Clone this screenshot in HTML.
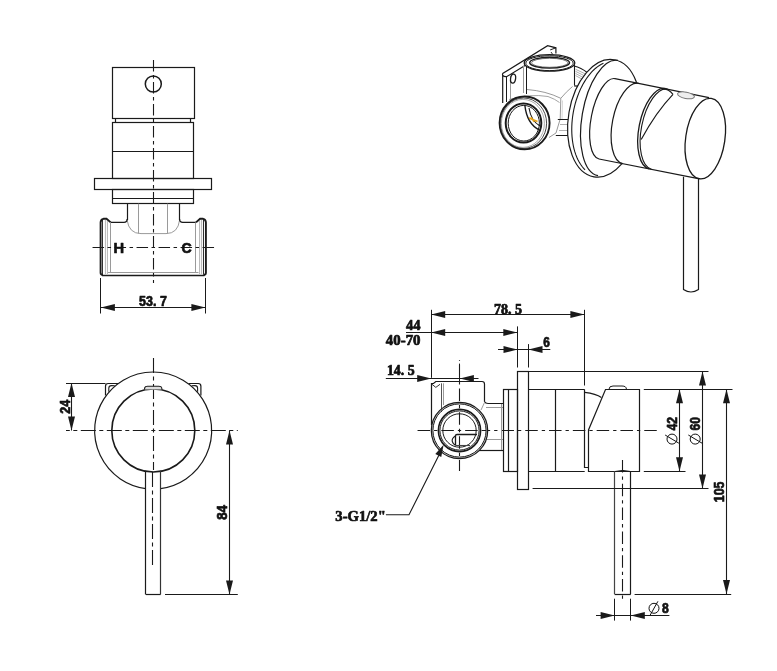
<!DOCTYPE html>
<html><head><meta charset="utf-8"><style>
html,body{margin:0;padding:0;background:#fff;width:777px;height:671px;overflow:hidden}
svg{display:block;will-change:transform}
</style></head><body>
<svg width="777" height="671" viewBox="0 0 777 671" stroke-linecap="butt">
<rect width="777" height="671" fill="#fff"/>
<line x1="153.5" y1="60" x2="153.5" y2="283" stroke="#1a1a1a" stroke-width="1.1" stroke-dasharray="11.5 3.5 3.5 3.5" stroke-dashoffset="0.00"/>
<rect x="112.5" y="67.5" width="82.0" height="51.0" rx="0" stroke="#1a1a1a" stroke-width="1.2" fill="none"/>
<circle cx="153.3" cy="84" r="8" stroke="#1a1a1a" stroke-width="1.5" fill="none"/>
<line x1="115.5" y1="118.5" x2="115.5" y2="122.5" stroke="#1a1a1a" stroke-width="1.2" />
<line x1="190.5" y1="118.5" x2="190.5" y2="122.5" stroke="#1a1a1a" stroke-width="1.2" />
<rect x="112.5" y="122.5" width="81.0" height="56.0" rx="0" stroke="#1a1a1a" stroke-width="1.2" fill="none"/>
<line x1="112.6" y1="151.5" x2="193.7" y2="151.5" stroke="#1a1a1a" stroke-width="1.2" />
<rect x="94.5" y="178.5" width="117.0" height="11.0" rx="0" stroke="#1a1a1a" stroke-width="1.2" fill="none"/>
<rect x="112.5" y="189.5" width="81.0" height="14.0" rx="0" stroke="#1a1a1a" stroke-width="1.2" fill="none"/>
<line x1="112.6" y1="198.5" x2="193.7" y2="198.5" stroke="#1a1a1a" stroke-width="1.2" />
<line x1="127.5" y1="203.7" x2="127.5" y2="220" stroke="#1a1a1a" stroke-width="1.2" />
<line x1="179.5" y1="203.7" x2="179.5" y2="220" stroke="#1a1a1a" stroke-width="1.2" />
<line x1="138.5" y1="203.7" x2="138.5" y2="233.6" stroke="#9a9a9a" stroke-width="1" />
<line x1="167.5" y1="203.7" x2="167.5" y2="233.6" stroke="#9a9a9a" stroke-width="1" />
<path d="M127.1,220 Q129,233.6 141,233.6 L166,233.6 Q178,233.6 179.6,220" stroke="#9a9a9a" stroke-width="1" fill="none" />
<path d="M110.7,222.4 L124,222.4 Q127.1,222.4 127.1,219" stroke="#1a1a1a" stroke-width="1.2" fill="none" />
<path d="M179.6,219 Q179.6,222.4 182.7,222.4 L196,222.4" stroke="#1a1a1a" stroke-width="1.2" fill="none" />
<path d="M110.7,222.4 L106.5,218.8 L103.4,218.8 Q100.6,219.5 100.6,222.5 L100.6,272.8 Q100.6,275 103,275" stroke="#1a1a1a" stroke-width="1.9" fill="none" />
<line x1="102.5" y1="220" x2="102.5" y2="274.5" stroke="#1a1a1a" stroke-width="0.9" />
<line x1="105.5" y1="220" x2="105.5" y2="274" stroke="#bbb" stroke-width="1.2" />
<line x1="107.5" y1="221" x2="107.5" y2="274" stroke="#bbb" stroke-width="1.0" />
<line x1="110.5" y1="222.4" x2="110.5" y2="272.6" stroke="#9a9a9a" stroke-width="1" />
<path d="M196,222.4 L200.1,218.8 L203.1,218.8 Q205.9,219.5 205.9,222.5 L205.9,272.8 Q205.9,275 203.5,275" stroke="#1a1a1a" stroke-width="1.9" fill="none" />
<line x1="203.5" y1="220" x2="203.5" y2="274.5" stroke="#1a1a1a" stroke-width="0.9" />
<line x1="201.5" y1="220" x2="201.5" y2="274" stroke="#bbb" stroke-width="1.2" />
<line x1="199.5" y1="221" x2="199.5" y2="274" stroke="#bbb" stroke-width="1.0" />
<line x1="195.5" y1="222.4" x2="195.5" y2="272.6" stroke="#9a9a9a" stroke-width="1" />
<line x1="102" y1="275.5" x2="204.5" y2="275.5" stroke="#1a1a1a" stroke-width="1.5" />
<line x1="108" y1="272.5" x2="198.5" y2="272.5" stroke="#9a9a9a" stroke-width="1" />
<line x1="92" y1="247.5" x2="216" y2="247.5" stroke="#1a1a1a" stroke-width="1.1" stroke-dasharray="11.5 3.5 3.5 3.5" stroke-dashoffset="21.45"/>
<text x="118.7" y="253" font-family="Liberation Sans" font-size="15.2" font-weight="bold" text-anchor="middle" fill="#111" stroke="#111" stroke-width="0.7" stroke-linejoin="round" textLength="10.6" lengthAdjust="spacingAndGlyphs">H</text>
<text x="186.5" y="253.2" font-family="Liberation Sans" font-size="15.2" font-weight="bold" text-anchor="middle" fill="#111" stroke="#111" stroke-width="0.7" stroke-linejoin="round" textLength="10.2" lengthAdjust="spacingAndGlyphs">C</text>
<line x1="100.5" y1="278" x2="100.5" y2="313.5" stroke="#1a1a1a" stroke-width="1" />
<line x1="205.5" y1="278" x2="205.5" y2="313.5" stroke="#1a1a1a" stroke-width="1" />
<line x1="100.9" y1="307.5" x2="205.4" y2="307.5" stroke="#1a1a1a" stroke-width="1.1" />
<polygon points="100.90,307.50 114.90,304.00 114.90,311.00" fill="#1a1a1a"/>
<polygon points="205.40,307.50 191.40,311.00 191.40,304.00" fill="#1a1a1a"/>
<text x="153" y="305.8" font-family="Liberation Sans" font-size="14.2" font-weight="bold" text-anchor="middle" fill="#111" stroke="#111" stroke-width="0.7" stroke-linejoin="round" textLength="27.8" lengthAdjust="spacingAndGlyphs">53. 7</text>
<line x1="153.5" y1="355" x2="153.5" y2="470" stroke="#1a1a1a" stroke-width="1.1" stroke-dasharray="15 3.5 4 3.5" stroke-dashoffset="23.00"/>
<line x1="66" y1="430.5" x2="237.8" y2="430.5" stroke="#1a1a1a" stroke-width="1.1" stroke-dasharray="15 3.5 4 3.5" stroke-dashoffset="11.20"/>
<path d="M160.60,488.54 A58.5,58.5 0 1 0 145.70,488.54" stroke="#1a1a1a" stroke-width="1.2" fill="none"/>
<circle cx="153.3" cy="430.5" r="41.5" stroke="#1a1a1a" stroke-width="1.6" fill="none"/>
<line x1="145.5" y1="470.7894527140789" x2="145.5" y2="594.4" stroke="#1a1a1a" stroke-width="1.2" />
<line x1="160.5" y1="470.7894527140789" x2="160.5" y2="594.4" stroke="#333" stroke-width="1.2" />
<line x1="145.7" y1="594.5" x2="160.6" y2="594.5" stroke="#1a1a1a" stroke-width="1.2" />
<line x1="152.5" y1="472" x2="152.5" y2="567.4" stroke="#1a1a1a" stroke-width="1.1" stroke-dasharray="15 3.5 4 3.5" stroke-dashoffset="0.00"/>
<path d="M105.5,395.5 L105.5,386.2 Q105.5,383.5 108.2,383.5 L118,383.5" stroke="#1a1a1a" stroke-width="1.2" fill="none" />
<path d="M108.8,391.8 L108.8,388.2 Q108.8,385.6 111.5,385.6 L114.8,385.7" stroke="#1a1a1a" stroke-width="1.1" fill="none" />
<path d="M200.9,395.5 L200.9,386.2 Q200.9,383.5 198.2,383.5 L188.6,383.5" stroke="#1a1a1a" stroke-width="1.2" fill="none" />
<path d="M197.6,391.8 L197.6,388.2 Q197.6,385.6 194.9,385.6 L191.6,385.7" stroke="#1a1a1a" stroke-width="1.1" fill="none" />
<path d="M144.6,389.6 L144.6,388 Q145,386.4 147.5,386.3 L158.8,386.3 Q161.5,386.4 161.8,388 L161.8,389.4" stroke="#1a1a1a" stroke-width="1.1" fill="#ddd" />
<line x1="66" y1="383.5" x2="105.5" y2="383.5" stroke="#1a1a1a" stroke-width="1.1" />
<line x1="71.5" y1="383.1" x2="71.5" y2="430.5" stroke="#1a1a1a" stroke-width="1.1" />
<polygon points="71.50,383.10 75.00,397.10 68.00,397.10" fill="#1a1a1a"/>
<polygon points="71.50,430.50 68.00,416.50 75.00,416.50" fill="#1a1a1a"/>
<text x="69.6" y="406.8" font-family="Liberation Sans" font-size="14" font-weight="bold" text-anchor="middle" fill="#111" stroke="#111" stroke-width="0.7" stroke-linejoin="round" textLength="14" lengthAdjust="spacingAndGlyphs" transform="rotate(-90 69.6 406.8)">24</text>
<line x1="165" y1="594.5" x2="237.8" y2="594.5" stroke="#1a1a1a" stroke-width="1" />
<line x1="229.5" y1="430.5" x2="229.5" y2="594.4" stroke="#1a1a1a" stroke-width="1.1" />
<polygon points="229.50,430.50 233.00,444.50 226.00,444.50" fill="#1a1a1a"/>
<polygon points="229.50,594.40 226.00,580.40 233.00,580.40" fill="#1a1a1a"/>
<text x="227.0" y="512.4" font-family="Liberation Sans" font-size="14" font-weight="bold" text-anchor="middle" fill="#111" stroke="#111" stroke-width="0.7" stroke-linejoin="round" textLength="14.8" lengthAdjust="spacingAndGlyphs" transform="rotate(-90 227.0 512.4)">84</text>
<line x1="415" y1="430.5" x2="484" y2="430.5" stroke="#1a1a1a" stroke-width="1.1" stroke-dasharray="12.5 4 3.3 4" stroke-dashoffset="21.25"/>
<line x1="484" y1="430.5" x2="659.5" y2="430.5" stroke="#1a1a1a" stroke-width="1.1" stroke-dasharray="12.5 4 3.3 4" stroke-dashoffset="6.35"/>
<path d="M431.5,425 L431.5,383.5 L433.5,383.5 L435.8,381.5 L482,381.5 Q484.5,381.5 484.5,384 L484.5,401.7 Q485.5,403.5 488,403.5 L503.5,403.5" stroke="#1a1a1a" stroke-width="1.2" fill="none" />
<line x1="478.6" y1="450.5" x2="503.3" y2="450.5" stroke="#1a1a1a" stroke-width="1.2" />
<line x1="441.5" y1="383.3" x2="441.5" y2="412" stroke="#555" stroke-width="1" />
<line x1="443.5" y1="383.3" x2="443.5" y2="405" stroke="#9a9a9a" stroke-width="1" />
<path d="M432,384.3 L435.8,387.4 L440,384.3" stroke="#333" stroke-width="1" fill="none" />
<line x1="486" y1="407.5" x2="503.3" y2="407.5" stroke="#9a9a9a" stroke-width="1" />
<line x1="486" y1="439.5" x2="503.3" y2="439.5" stroke="#9a9a9a" stroke-width="1" />
<line x1="501.5" y1="404" x2="501.5" y2="450" stroke="#9a9a9a" stroke-width="1" />
<path d="M484.9,401.7 L481,410" stroke="#9a9a9a" stroke-width="1" fill="none" />
<line x1="459.5" y1="360" x2="459.5" y2="471" stroke="#1a1a1a" stroke-width="1.1" stroke-dasharray="12.5 4 3.3 4" stroke-dashoffset="19.05"/>
<circle cx="459.5" cy="430.5" r="27.4" stroke="#c8c8c8" stroke-width="1.4" fill="none"/>
<circle cx="459.5" cy="430.5" r="28.2" stroke="#1a1a1a" stroke-width="1.2" fill="none"/>
<circle cx="459.5" cy="430.5" r="26.6" stroke="#1a1a1a" stroke-width="1.0" fill="none"/>
<circle cx="459.5" cy="430.5" r="21.1" stroke="#1a1a1a" stroke-width="1.6" fill="none"/>
<circle cx="459.5" cy="430.5" r="19.6" stroke="#1a1a1a" stroke-width="1.0" fill="none"/>
<circle cx="459.5" cy="430.5" r="16.7" stroke="#1a1a1a" stroke-width="1.0" fill="none"/>
<path d="M477,434.5 L457,434.5 Q455.5,434.5 455.5,436 L455.5,445.5" stroke="#1a1a1a" stroke-width="1.3" fill="none" />
<line x1="455.5" y1="445.5" x2="470" y2="445.5" stroke="#444" stroke-width="1.1" />
<path d="M455.2,436 Q451.5,438.5 452.3,441.5 Q453,444 455.2,445" stroke="#1a1a1a" stroke-width="1.1" fill="none" />
<rect x="503.5" y="389.5" width="14.0" height="82.0" rx="0" stroke="#1a1a1a" stroke-width="1.2" fill="none"/>
<line x1="508.5" y1="389.2" x2="508.5" y2="471.2" stroke="#1a1a1a" stroke-width="1.2" />
<rect x="517.5" y="371.5" width="11.0" height="118.0" rx="0" stroke="#1a1a1a" stroke-width="1.2" fill="none"/>
<line x1="528.8" y1="389.5" x2="584.7" y2="389.5" stroke="#1a1a1a" stroke-width="1.2" />
<line x1="528.8" y1="471.5" x2="584.7" y2="471.5" stroke="#1a1a1a" stroke-width="1.2" />
<line x1="555.5" y1="389.2" x2="555.5" y2="471.2" stroke="#1a1a1a" stroke-width="1.2" />
<path d="M584.5,389.5 L584.5,467.5 L588.5,467.5" stroke="#1a1a1a" stroke-width="1.2" fill="none" />
<path d="M584.7,392.3 Q596,393.5 601.4,397.6" stroke="#1a1a1a" stroke-width="1.2" fill="none" />
<path d="M605.5,389.5 L639.5,389.5 L639.5,471.5 L588.5,471.5 L588.5,429.9 Z" stroke="#1a1a1a" stroke-width="1.2" fill="none" />
<path d="M609,389.2 Q609,386 613,386 L622,386 Q626.4,386 626.4,389.2" stroke="#1a1a1a" stroke-width="1" fill="none" />
<line x1="614.5" y1="471.2" x2="614.5" y2="594.1" stroke="#444" stroke-width="1.2" />
<line x1="630.5" y1="471.2" x2="630.5" y2="594.1" stroke="#1a1a1a" stroke-width="1.2" />
<line x1="614.6" y1="594.5" x2="630.8" y2="594.5" stroke="#1a1a1a" stroke-width="1.2" />
<path d="M615,471.5 Q622.7,469.3 630.5,471.5" stroke="#1a1a1a" stroke-width="1" fill="none" />
<line x1="622.5" y1="460" x2="622.5" y2="600" stroke="#1a1a1a" stroke-width="1.1" stroke-dasharray="12.5 4 3.3 4" stroke-dashoffset="0.00"/>
<line x1="528.8" y1="371.5" x2="708.5" y2="371.5" stroke="#1a1a1a" stroke-width="1" />
<line x1="532.6" y1="488.5" x2="708.5" y2="488.5" stroke="#1a1a1a" stroke-width="1" />
<line x1="643.8" y1="389.5" x2="732.5" y2="389.5" stroke="#1a1a1a" stroke-width="1" />
<line x1="643.8" y1="471.5" x2="685.5" y2="471.5" stroke="#1a1a1a" stroke-width="1" />
<line x1="634.6" y1="594.5" x2="731.2" y2="594.5" stroke="#1a1a1a" stroke-width="1" />
<line x1="679.5" y1="389.2" x2="679.5" y2="471.2" stroke="#1a1a1a" stroke-width="1.1" />
<polygon points="679.50,389.20 683.00,403.20 676.00,403.20" fill="#1a1a1a"/>
<polygon points="679.50,471.20 676.00,457.20 683.00,457.20" fill="#1a1a1a"/>
<text x="676.8" y="423.7" font-family="Liberation Sans" font-size="14" font-weight="bold" text-anchor="middle" fill="#111" stroke="#111" stroke-width="0.7" stroke-linejoin="round" textLength="13.6" lengthAdjust="spacingAndGlyphs" transform="rotate(-90 676.8 423.7)">42</text>
<circle cx="672" cy="439.1" r="5" stroke="#111" stroke-width="1.0" fill="none"/>
<line x1="665.1283208245546" y1="435.00365708103544" x2="678.8716791754454" y2="443.1963429189646" stroke="#111" stroke-width="1.0" />
<line x1="702.5" y1="371.5" x2="702.5" y2="488.6" stroke="#1a1a1a" stroke-width="1.1" />
<polygon points="702.50,371.50 706.00,385.50 699.00,385.50" fill="#1a1a1a"/>
<polygon points="702.50,488.60 699.00,474.60 706.00,474.60" fill="#1a1a1a"/>
<text x="700" y="423.7" font-family="Liberation Sans" font-size="14" font-weight="bold" text-anchor="middle" fill="#111" stroke="#111" stroke-width="0.7" stroke-linejoin="round" textLength="13.6" lengthAdjust="spacingAndGlyphs" transform="rotate(-90 700 423.7)">60</text>
<circle cx="695.2" cy="439.1" r="5" stroke="#111" stroke-width="1.0" fill="none"/>
<line x1="688.3283208245547" y1="435.00365708103544" x2="702.0716791754454" y2="443.1963429189646" stroke="#111" stroke-width="1.0" />
<line x1="726.5" y1="389.2" x2="726.5" y2="594.1" stroke="#1a1a1a" stroke-width="1.1" />
<polygon points="726.50,389.20 730.00,403.20 723.00,403.20" fill="#1a1a1a"/>
<polygon points="726.50,594.10 723.00,580.10 730.00,580.10" fill="#1a1a1a"/>
<text x="724.0" y="491.9" font-family="Liberation Sans" font-size="14" font-weight="bold" text-anchor="middle" fill="#111" stroke="#111" stroke-width="0.7" stroke-linejoin="round" textLength="20.6" lengthAdjust="spacingAndGlyphs" transform="rotate(-90 724.0 491.9)">105</text>
<line x1="614.5" y1="598.7" x2="614.5" y2="620.6" stroke="#1a1a1a" stroke-width="1" />
<line x1="630.5" y1="598.7" x2="630.5" y2="620.6" stroke="#1a1a1a" stroke-width="1" />
<line x1="596" y1="615.5" x2="669.4" y2="615.5" stroke="#1a1a1a" stroke-width="1.1" />
<polygon points="614.60,615.50 600.60,619.00 600.60,612.00" fill="#1a1a1a"/>
<polygon points="630.80,615.50 644.80,612.00 644.80,619.00" fill="#1a1a1a"/>
<text x="665.45" y="613.3" font-family="Liberation Sans" font-size="14" font-weight="bold" text-anchor="middle" fill="#111" stroke="#111" stroke-width="0.7" stroke-linejoin="round" textLength="6.8" lengthAdjust="spacingAndGlyphs">8</text>
<circle cx="654" cy="608.3" r="5" stroke="#111" stroke-width="1.0" fill="none"/>
<line x1="650.0849403860092" y1="615.2765541794569" x2="657.9150596139908" y2="601.323445820543" stroke="#111" stroke-width="1.0" />
<line x1="431.5" y1="309.8" x2="431.5" y2="377.8" stroke="#1a1a1a" stroke-width="1" />
<line x1="584.5" y1="309.8" x2="584.5" y2="385.5" stroke="#1a1a1a" stroke-width="1" />
<line x1="431.2" y1="314.5" x2="584.4" y2="314.5" stroke="#1a1a1a" stroke-width="1.1" />
<polygon points="431.20,314.50 445.20,311.00 445.20,318.00" fill="#1a1a1a"/>
<polygon points="584.40,314.50 570.40,318.00 570.40,311.00" fill="#1a1a1a"/>
<text x="507.9" y="313.7" font-family="Liberation Serif" font-size="14" font-weight="bold" text-anchor="middle" fill="#111" stroke="#111" stroke-width="0.7" stroke-linejoin="round" textLength="28" lengthAdjust="spacingAndGlyphs">78. 5</text>
<line x1="406" y1="332.5" x2="517.3" y2="332.5" stroke="#1a1a1a" stroke-width="1.1" />
<polygon points="431.20,332.50 445.20,329.00 445.20,336.00" fill="#1a1a1a"/>
<polygon points="517.30,332.50 503.30,336.00 503.30,329.00" fill="#1a1a1a"/>
<line x1="517.5" y1="326.4" x2="517.5" y2="367.5" stroke="#1a1a1a" stroke-width="1" />
<text x="413.3" y="330" font-family="Liberation Serif" font-size="14" font-weight="bold" text-anchor="middle" fill="#111" stroke="#111" stroke-width="0.7" stroke-linejoin="round" textLength="14.5" lengthAdjust="spacingAndGlyphs">44</text>
<text x="403.2" y="344.8" font-family="Liberation Serif" font-size="14" font-weight="bold" text-anchor="middle" fill="#111" stroke="#111" stroke-width="0.7" stroke-linejoin="round" textLength="34.7" lengthAdjust="spacingAndGlyphs">40-70</text>
<line x1="528.5" y1="344.1" x2="528.5" y2="367.5" stroke="#1a1a1a" stroke-width="1" />
<line x1="498" y1="349.5" x2="550.3" y2="349.5" stroke="#1a1a1a" stroke-width="1.1" />
<polygon points="517.50,349.50 503.50,353.00 503.50,346.00" fill="#1a1a1a"/>
<polygon points="528.50,349.50 542.50,346.00 542.50,353.00" fill="#1a1a1a"/>
<text x="546.5" y="347.4" font-family="Liberation Sans" font-size="14" font-weight="bold" text-anchor="middle" fill="#111" stroke="#111" stroke-width="0.7" stroke-linejoin="round" textLength="6.6" lengthAdjust="spacingAndGlyphs">6</text>
<line x1="459.5" y1="363.6" x2="459.5" y2="381.5" stroke="#1a1a1a" stroke-width="1" />
<line x1="385.8" y1="378.5" x2="478.5" y2="378.5" stroke="#1a1a1a" stroke-width="1.1" />
<polygon points="431.20,378.50 417.20,382.00 417.20,375.00" fill="#1a1a1a"/>
<polygon points="459.90,378.50 473.90,375.00 473.90,382.00" fill="#1a1a1a"/>
<text x="400.8" y="375.2" font-family="Liberation Serif" font-size="14" font-weight="bold" text-anchor="middle" fill="#111" stroke="#111" stroke-width="0.7" stroke-linejoin="round" textLength="27.7" lengthAdjust="spacingAndGlyphs">14. 5</text>
<path d="M385.9,514.8 L409,514.8 L441,451" stroke="#1a1a1a" stroke-width="1.1" fill="none" />
<polygon points="443.60,444.80 441.24,457.02 435.32,454.10" fill="#1a1a1a"/>
<text x="360.6" y="520.7" font-family="Liberation Serif" font-size="15.2" font-weight="bold" text-anchor="middle" fill="#111" stroke="#111" stroke-width="0.7" stroke-linejoin="round" textLength="50.5" lengthAdjust="spacingAndGlyphs">3-G1/2"</text>
<path d="M527,89.5 Q546,91 560.8,98.3 Q566,92 572.5,86.5" stroke="#9a9a9a" stroke-width="1" fill="none" />
<path d="M509,99.5 Q530,93.5 548,96.5 Q555,99 559.5,102.5" stroke="#9a9a9a" stroke-width="0.9" fill="none" />
<path d="M560.8,98.3 L560.2,119 L556,133 L549,137.5" stroke="#9a9a9a" stroke-width="1" fill="none" />
<path d="M562.5,100.5 L562,119" stroke="#ccc" stroke-width="0.8" fill="none" />
<path d="M574.1,66 Q581,67.5 587.5,72.7" stroke="#1a1a1a" stroke-width="1.1" fill="none" />
<path d="M574.1,85.9 L577.9,86.1 L587.5,74.2" stroke="#1a1a1a" stroke-width="1.1" fill="none" />
<path d="M575.6,69.3 L586.8,74.6" stroke="#9a9a9a" stroke-width="0.8" fill="none" />
<path d="M575.6,71.4 L585.5,76.3" stroke="#9a9a9a" stroke-width="0.8" fill="none" />
<path d="M575.6,73.5 L584.2,78" stroke="#9a9a9a" stroke-width="0.8" fill="none" />
<path d="M575.6,75.6 L582.9,79.6" stroke="#9a9a9a" stroke-width="0.8" fill="none" />
<line x1="557.8" y1="119.5" x2="568" y2="119.5" stroke="#1a1a1a" stroke-width="1" />
<line x1="555.8" y1="135.5" x2="568" y2="135.5" stroke="#1a1a1a" stroke-width="1" />
<line x1="560" y1="124.5" x2="568" y2="124.5" stroke="#9a9a9a" stroke-width="0.8" />
<line x1="559" y1="130.5" x2="568" y2="130.5" stroke="#9a9a9a" stroke-width="0.8" />
<path d="M502.7,103 L502.7,75.5 Q502.2,74 503,73.3 L547.6,45.7 L555.9,47.8 L555.9,53.6" stroke="#1a1a1a" stroke-width="1.2" fill="none" />
<path d="M502.7,75.5 Q504,76.8 506.9,76.5 L525,65.5" stroke="#1a1a1a" stroke-width="1.2" fill="none" />
<path d="M550.2,49.9 L555.9,47.8" stroke="#1a1a1a" stroke-width="1.0" fill="none" />
<path d="M551,52 L554.5,57 L549,57" stroke="#1a1a1a" stroke-width="0.9" fill="none" />
<line x1="506.5" y1="76.5" x2="506.5" y2="102" stroke="#1a1a1a" stroke-width="1" />
<line x1="510.5" y1="76" x2="510.5" y2="100" stroke="#9a9a9a" stroke-width="1" />
<ellipse cx="513.1" cy="78.6" rx="2.5" ry="4.6" stroke="#1a1a1a" stroke-width="1.3" fill="none" transform="rotate(8 513.1 78.6)"/>
<line x1="526.5" y1="63" x2="526.5" y2="94" stroke="#1a1a1a" stroke-width="1.0" />
<line x1="523.5" y1="66" x2="523.5" y2="93" stroke="#9a9a9a" stroke-width="1" />
<line x1="574.5" y1="64.5" x2="574.5" y2="85.3" stroke="#1a1a1a" stroke-width="1.1" />
<ellipse cx="549.5" cy="62.9" rx="25.3" ry="8.3" stroke="#1a1a1a" stroke-width="1.3" fill="#fff"/>
<ellipse cx="549.5" cy="63.2" rx="23.7" ry="7.4" stroke="#1a1a1a" stroke-width="1.0" fill="none"/>
<ellipse cx="549.6" cy="62.7" rx="19.9" ry="5.4" stroke="#1a1a1a" stroke-width="1.5" fill="none"/>
<ellipse cx="549.7" cy="62.8" rx="18.2" ry="4.5" stroke="#555" stroke-width="0.8" fill="none"/>
<ellipse cx="524.6" cy="122.9" rx="25.0" ry="26.4" stroke="#1a1a1a" stroke-width="1.9" fill="#fff"/>
<ellipse cx="523.6" cy="123.2" rx="23.0" ry="25.2" stroke="#333" stroke-width="0.9" fill="none"/>
<ellipse cx="522.9" cy="123.4" rx="21.5" ry="24.0" stroke="#888" stroke-width="0.7" fill="none"/>
<ellipse cx="523.5" cy="123" rx="17.8" ry="19.6" stroke="#1a1a1a" stroke-width="2.0" fill="none"/>
<ellipse cx="523.8" cy="123.2" rx="15.6" ry="17.8" stroke="#1a1a1a" stroke-width="1.0" fill="none"/>
<path d="M524.9,105.6 Q527,124 539.5,130" stroke="#1a1a1a" stroke-width="1.4" fill="none" />
<path d="M529,108 Q531,121 540,126" stroke="#1a1a1a" stroke-width="1.1" fill="none" />
<path d="M529,118 L537.5,121.5" stroke="#e8a317" stroke-width="1.6" fill="none" />
<path d="M531,117 L534,122" stroke="#e8a317" stroke-width="1.2" fill="none" />
<ellipse cx="604.1" cy="118.3" rx="35.6" ry="59.4" stroke="#1a1a1a" stroke-width="1.2" fill="#fff" transform="rotate(9.8 604.1 118.3)"/>
<path d="M585.03,169.81 L583.44,168.14 L581.93,166.29 L580.51,164.27 L579.18,162.09 L577.94,159.76 L576.81,157.28 L575.79,154.66 L574.87,151.92 L574.07,149.05 L573.38,146.08 L572.82,143.01 L572.37,139.85 L572.04,136.61 L571.83,133.32 L571.75,129.96 L571.80,126.57 L571.96,123.15 L572.25,119.72 L572.66,116.28 L573.19,112.85 L573.84,109.44 L574.61,106.06 L575.49,102.72 L576.48,99.45 L577.58,96.24 L578.78,93.11 L580.08,90.07 L581.47,87.13 L582.95,84.31 L584.52,81.61 L586.17,79.03 L587.88,76.61 L589.67,74.32 L591.51,72.20 L593.41,70.24 L595.35,68.46 L597.33,66.85 L599.35,65.43 L601.39,64.20 L603.45,63.16" stroke="#1a1a1a" stroke-width="1.1" fill="none" />
<path d="M617.96,60.35 A26,58.5 9.8 0 0 598.04,175.65" stroke="#1a1a1a" stroke-width="1.2" fill="none" />
<path d="M614.94,78.58 L709.00,97.60 L698.30,178.70 L599.06,159.02 A18.5,41 11.173134215427032 0 1 614.94,78.58 Z" fill="#fff" stroke="none"/>
<line x1="614.9447489054016" y1="78.57710894490401" x2="709.0" y2="97.6" stroke="#1a1a1a" stroke-width="1.2" />
<line x1="599.0552510945984" y1="159.02289105509598" x2="698.3" y2="178.7" stroke="#1a1a1a" stroke-width="1.2" />
<path d="M614.94,78.58 A16,41 11.173134215427032 0 0 599.06,159.02" stroke="#1a1a1a" stroke-width="1.2" fill="none" />
<path d="M638.64,83.26 A18.5,41 11.173134215427032 0 0 622.75,163.70" stroke="#1a1a1a" stroke-width="1.2" fill="none" />
<path d="M665.23,88.51 A18.5,41 11.173134215427032 0 0 649.34,168.95" stroke="#1a1a1a" stroke-width="1.3" fill="none" />
<path d="M667.65,88.99 A18.5,41 11.173134215427032 0 0 651.76,169.43" stroke="#1a1a1a" stroke-width="1.1" fill="none" />
<path d="M662.5,88.6 Q669,89 673,94.3" stroke="#1a1a1a" stroke-width="1.1" fill="none" />
<path d="M673,94.3 Q656,112 641.2,139.5" stroke="#1a1a1a" stroke-width="1.2" fill="none" />
<ellipse cx="705.3" cy="138.6" rx="19.6" ry="40.6" stroke="#1a1a1a" stroke-width="1.3" fill="#fff" transform="rotate(8.4 705.3 138.6)"/>
<ellipse cx="686" cy="95.3" rx="8.6" ry="3.2" stroke="#777" stroke-width="1" fill="#eee" transform="rotate(11.173134215427032 686 95.3)"/>
<path d="M683.5,176.8 L683.5,289.5 Q690.9,294.5 698.5,289.5 L698.5,178.7" stroke="#1a1a1a" stroke-width="1.2" fill="none" />
</svg>
</body></html>
